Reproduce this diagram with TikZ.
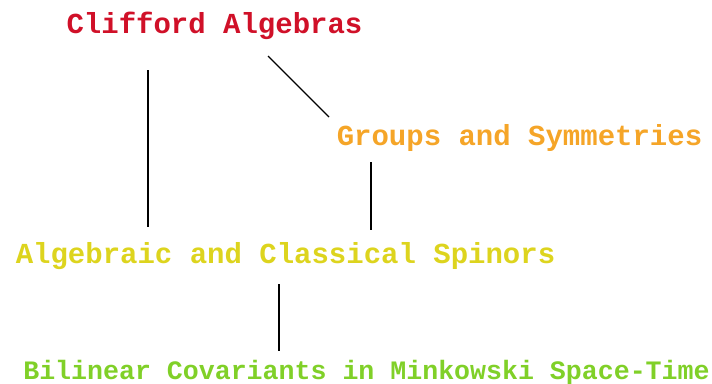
\documentclass[tikz,border=0pt]{standalone}
\usepackage{fontspec}
\usepackage{xcolor}
\usepackage{tikz}
\usetikzlibrary{positioning,calc}
\newfontfamily\topicfont{Liberation Mono}
\definecolor{cliffred}{RGB}{208,16,40}
\definecolor{grouporange}{RGB}{245,165,40}
\definecolor{spinyellow}{RGB}{221,212,30}
\definecolor{bilgreen}{RGB}{128,208,40}

\begin{document}
\begin{tikzpicture}[
    x=1pt, y=-1pt,
    topic/.style={anchor=base, inner sep=0pt, font=\topicfont\bfseries\fontsize{29}{30}\selectfont},
    link/.style={line width=1.3pt, black}
]
    \useasboundingbox (0,0) rectangle (712,383);
    \node [topic, text=cliffred] (cliff) at (214.5,33) {Clifford Algebras};
    \node [topic, text=grouporange] (groups) at (519.5,145) {Groups and Symmetries};
    \node [topic, text=spinyellow] (spinors) at (285.5,263) {Algebraic and Classical Spinors};
    \node [topic, text=bilgreen, font=\topicfont\bfseries\fontsize{26.6}{28}\selectfont] (bilin) at (366.5,379) {Bilinear Covariants in Minkowski Space-Time};
    % connectors
    \draw [link] ([shift={(-66.5,37)}]cliff.base) -- ([shift={(-137.5,-36)}]spinors.base);
    \draw [link] ([shift={(53.5,23)}]cliff.base) -- ([shift={(-190.5,-28)}]groups.base);
    \draw [link] ([shift={(-148.5,17)}]groups.base) -- ([shift={(85.5,-33)}]spinors.base);
    \draw [link] ([shift={(-6.5,21)}]spinors.base) -- ([shift={(-87.5,-28)}]bilin.base);
\end{tikzpicture}
\end{document}
